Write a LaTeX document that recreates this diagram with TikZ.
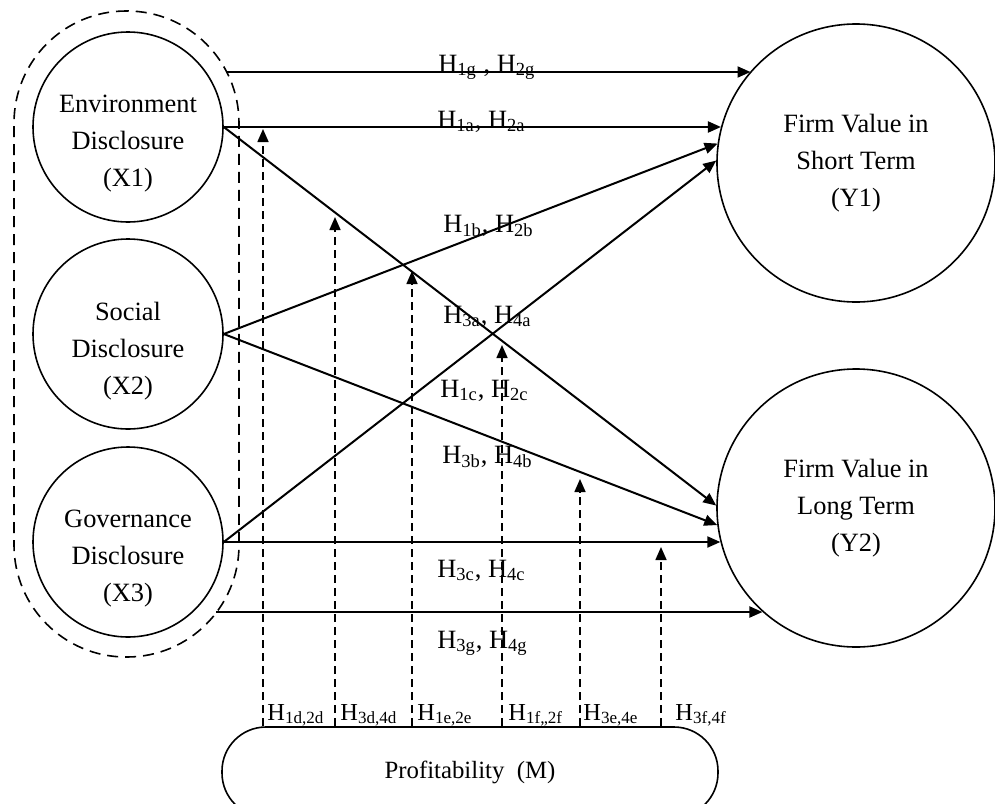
\documentclass[tikz,border=0pt]{standalone}
\usepackage{fontspec}
\setmainfont{Liberation Serif}
\usetikzlibrary{arrows.meta}

\begin{document}
\begin{tikzpicture}[x=0.5pt,y=-0.5pt,>={Triangle[length=6.5pt,width=5.5pt]},
	every node/.style={font=\fontsize{13.2}{18.5}\selectfont},
	var/.style={circle,draw,line width=0.8pt,inner sep=0pt,align=center},
	xvar/.style={var,minimum size=95pt},
	yvar/.style={var,minimum size=139pt},
	xtext/.style={align=center,yshift=-8.5pt},
	xgroup/.style={draw,dash pattern=on 5.5pt off 3.5pt,line width=0.8pt,rounded corners=56pt,
		minimum width=112.5pt,minimum height=323pt,inner sep=0pt},
	mbox/.style={draw,line width=0.8pt,rounded corners=22pt,minimum width=248pt,minimum height=45pt,
		font=\fontsize{12.4}{15}\selectfont},
	link/.style={->,line width=1pt},
	modline/.style={->,dash pattern=on 4pt off 2.5pt,line width=0.8pt},
	hyp/.style={anchor=base west,inner sep=0pt},
	hypm/.style={hyp,font=\fontsize{12.2}{14}\selectfont},
	]
	% Rahmen
	\path[use as bounding box,clip] (0,0) rectangle (995,803);
	
	% unabhaengige Variablen
	\node[xgroup] (grp) at (126.5,334) {};
	\node[xvar,label={[xtext]center:{Environment\\Disclosure\\(X1)}}] (X1) at (128,127) {};
	\node[xvar,label={[xtext]center:{Social\\Disclosure\\(X2)}}] (X2) at (128,334) {};
	\node[xvar,label={[xtext]center:{Governance\\Disclosure\\(X3)}}] (X3) at (128,542) {};
	
	% abhaengige Variablen
	\node[yvar] (Y1) at (856,163) {Firm Value in\\Short Term\\(Y1)};
	\node[yvar] (Y2) at (856,508) {Firm Value in\\Long Term\\(Y2)};
	
	% Moderator
	\node[mbox] (M) at (470,772) {Profitability~~(M)};
	
	% direkte Pfade
	\coordinate (g1) at (227,72);
	\coordinate (g2) at (216,612);
	\draw[link] (g1) -- (g1 -| Y1.139);
	\draw[link] (X1.east) -- (X1.east -| Y1.165);
	\draw[link] (X2.east) -- (Y1.172);
	\draw[link] (X3.east) -- (Y1.179);
	\draw[link] (X1.east) -- (Y2.179);
	\draw[link] (X2.east) -- (Y2.187);
	\draw[link] (X3.east) -- (X3.east -| Y2.194);
	\draw[link] (g2) -- (g2 -| Y2.228);
	
	% Moderation (gestrichelt)
	\coordinate (t1) at (263,129);
	\coordinate (t2) at (335,217);
	\coordinate (t3) at (412,271);
	\coordinate (t4) at (502,345);
	\coordinate (t5) at (580,479);
	\coordinate (t6) at (661,547);
	\draw[modline] (t1 |- M.north) -- (t1);
	\draw[modline] (t2 |- M.north) -- (t2);
	\draw[modline] (t3 |- M.north) -- (t3);
	\draw[modline] (t4 |- M.north) -- (t4);
	\draw[modline] (t5 |- M.north) -- (t5);
	\draw[modline] (t6 |- M.north) -- (t6);
	
	% Hypothesen
	\node[hyp] (h1g) at (438,72) {H\textsubscript{1g} , H\textsubscript{2g}};
	\node[hyp] (h1a) at (437,128) {H\textsubscript{1a}, H\textsubscript{2a}};
	\node[hyp] (h1b) at (443,232) {H\textsubscript{1b}, H\textsubscript{2b}};
	\node[hyp] (h3a) at (443,323) {H\textsubscript{3a}, H\textsubscript{4a}};
	\node[hyp] (h1c) at (440,397) {H\textsubscript{1c}, H\textsubscript{2c}};
	\node[hyp] (h3b) at (442,463) {H\textsubscript{3b}, H\textsubscript{4b}};
	\node[hyp] (h3c) at (437,577) {H\textsubscript{3c}, H\textsubscript{4c}};
	\node[hyp] (h3g) at (437,648) {H\textsubscript{3g}, H\textsubscript{4g}};
	
	\node[hypm] (h1d) at (267,720) {H\textsubscript{1d,2d}};
	\node[hypm] (h3d) at (340,720) {H\textsubscript{3d,4d}};
	\node[hypm] (h1e) at (417,720) {H\textsubscript{1e,2e}};
	\node[hypm] (h1f) at (508,720) {H\textsubscript{1f,,2f}};
	\node[hypm] (h3e) at (583,720) {H\textsubscript{3e,4e}};
	\node[hypm] (h3f) at (675,720) {H\textsubscript{3f,4f}};
\end{tikzpicture}
\end{document}
